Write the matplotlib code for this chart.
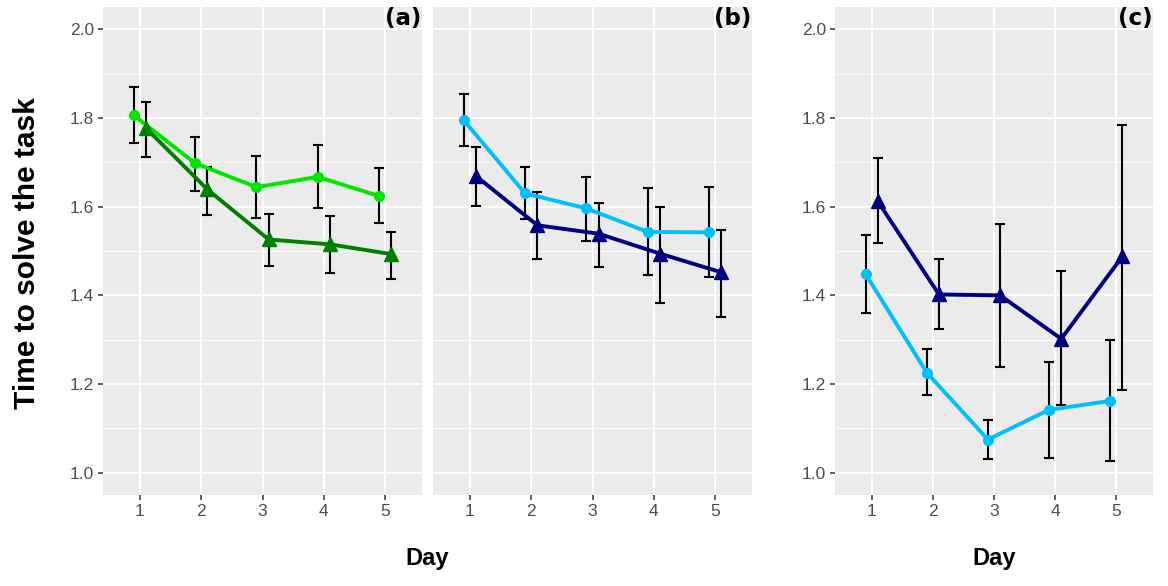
import numpy as np
import matplotlib
matplotlib.use("Agg")
import matplotlib.pyplot as plt
from matplotlib.ticker import MultipleLocator

plt.rcParams['font.family'] = ['Liberation Sans', 'DejaVu Sans']

days = [1, 2, 3, 4, 5]
day_labels = ["1", "2", "3", "4", "5"]

# panel (a)
a_circ = [1.806, 1.698, 1.644, 1.667, 1.624]
a_circ_lo = [1.744, 1.636, 1.574, 1.596, 1.563]
a_circ_hi = [1.869, 1.758, 1.714, 1.739, 1.686]
a_tri = [1.777, 1.639, 1.526, 1.515, 1.493]
a_tri_lo = [1.712, 1.582, 1.467, 1.450, 1.438]
a_tri_hi = [1.835, 1.689, 1.583, 1.578, 1.543]

# panel (b)
b_circ = [1.795, 1.630, 1.596, 1.543, 1.542]
b_circ_lo = [1.736, 1.573, 1.523, 1.445, 1.441]
b_circ_hi = [1.855, 1.689, 1.667, 1.642, 1.644]
b_tri = [1.669, 1.558, 1.539, 1.494, 1.452]
b_tri_lo = [1.602, 1.483, 1.465, 1.383, 1.351]
b_tri_hi = [1.734, 1.633, 1.609, 1.599, 1.547]

# panel (c)
c_circ = [1.448, 1.226, 1.075, 1.142, 1.162]
c_circ_lo = [1.360, 1.175, 1.032, 1.033, 1.026]
c_circ_hi = [1.537, 1.279, 1.119, 1.250, 1.300]
c_tri = [1.612, 1.402, 1.400, 1.302, 1.488]
c_tri_lo = [1.518, 1.324, 1.238, 1.152, 1.186]
c_tri_hi = [1.710, 1.481, 1.561, 1.454, 1.785]

W, H = 1168, 586
fig = plt.figure(figsize=(W / 100, H / 100), dpi=100)


def box(x0, x1, y0, y1):
    return [x0 / W, 1 - y1 / H, (x1 - x0) / W, (y1 - y0) / H]


ax_a = fig.add_axes(box(103, 422, 7, 495))
ax_b = fig.add_axes(box(433, 752, 7, 495))
ax_c = fig.add_axes(box(835, 1153, 7, 495))

x = np.array(days, dtype=float)
dodge = 0.1


def draw_series(ax, xs, y, lo, hi, color, marker, ms):
    y = np.array(y)
    err = [y - np.array(lo), np.array(hi) - y]
    ax.errorbar(xs, y, yerr=err, fmt='none', ecolor='black', elinewidth=1.5,
                capsize=3.5, capthick=1.5, zorder=3)
    ax.plot(xs, y, color=color, lw=2.8, marker=marker, ms=ms, zorder=4)


def style(ax, label, show_y=True):
    ax.set_facecolor('#EBEBEB')
    for s in ax.spines.values():
        s.set_visible(False)
    ax.set_xlim(0.4, 5.6)
    ax.set_ylim(0.95, 2.05)
    ax.set_xticks(days)
    ax.set_xticklabels(day_labels)
    ax.yaxis.set_major_locator(MultipleLocator(0.2))
    ax.yaxis.set_minor_locator(MultipleLocator(0.1))
    ax.grid(which='major', color='white', lw=1.3)
    ax.grid(which='minor', axis='y', color='white', lw=0.6)
    ax.set_axisbelow(True)
    ax.tick_params(which='minor', length=0)
    ax.tick_params(which='major', length=3.5, width=1.1, color='#333333',
                   labelcolor='#4D4D4D', labelsize=12.5, pad=3)
    if show_y:
        ax.set_yticklabels([f"{v:.1f}" for v in ax.get_yticks()])
    else:
        ax.tick_params(axis='y', which='both', length=0, labelleft=False)
    ax.text(0.998, 0.999, label, transform=ax.transAxes, ha='right', va='top',
            fontsize=16.5, fontweight='bold', family='DejaVu Sans')


draw_series(ax_a, x - dodge, a_circ, a_circ_lo, a_circ_hi, '#00E600', 'o', 7)
draw_series(ax_a, x + dodge, a_tri, a_tri_lo, a_tri_hi, '#008000', '^', 9.5)
draw_series(ax_b, x - dodge, b_circ, b_circ_lo, b_circ_hi, '#00BFFF', 'o', 7)
draw_series(ax_b, x + dodge, b_tri, b_tri_lo, b_tri_hi, '#000080', '^', 9.5)
draw_series(ax_c, x - dodge, c_circ, c_circ_lo, c_circ_hi, '#00BFFF', 'o', 7)
draw_series(ax_c, x + dodge, c_tri, c_tri_lo, c_tri_hi, '#000080', '^', 9.5)

style(ax_a, '(a)')
style(ax_b, '(b)', show_y=False)
style(ax_c, '(c)')

fig.text(27 / W, 1 - 253 / H, 'Time to solve the task', rotation=90,
         ha='center', va='center', fontsize=21.5, fontweight='bold')
fig.text(427 / W, 1 - 558 / H, 'Day', ha='center', va='center',
         fontsize=17, fontweight='bold')
fig.text(994 / W, 1 - 558 / H, 'Day', ha='center', va='center',
         fontsize=17, fontweight='bold')

fig.savefig('out.png', dpi=100, facecolor='white')
